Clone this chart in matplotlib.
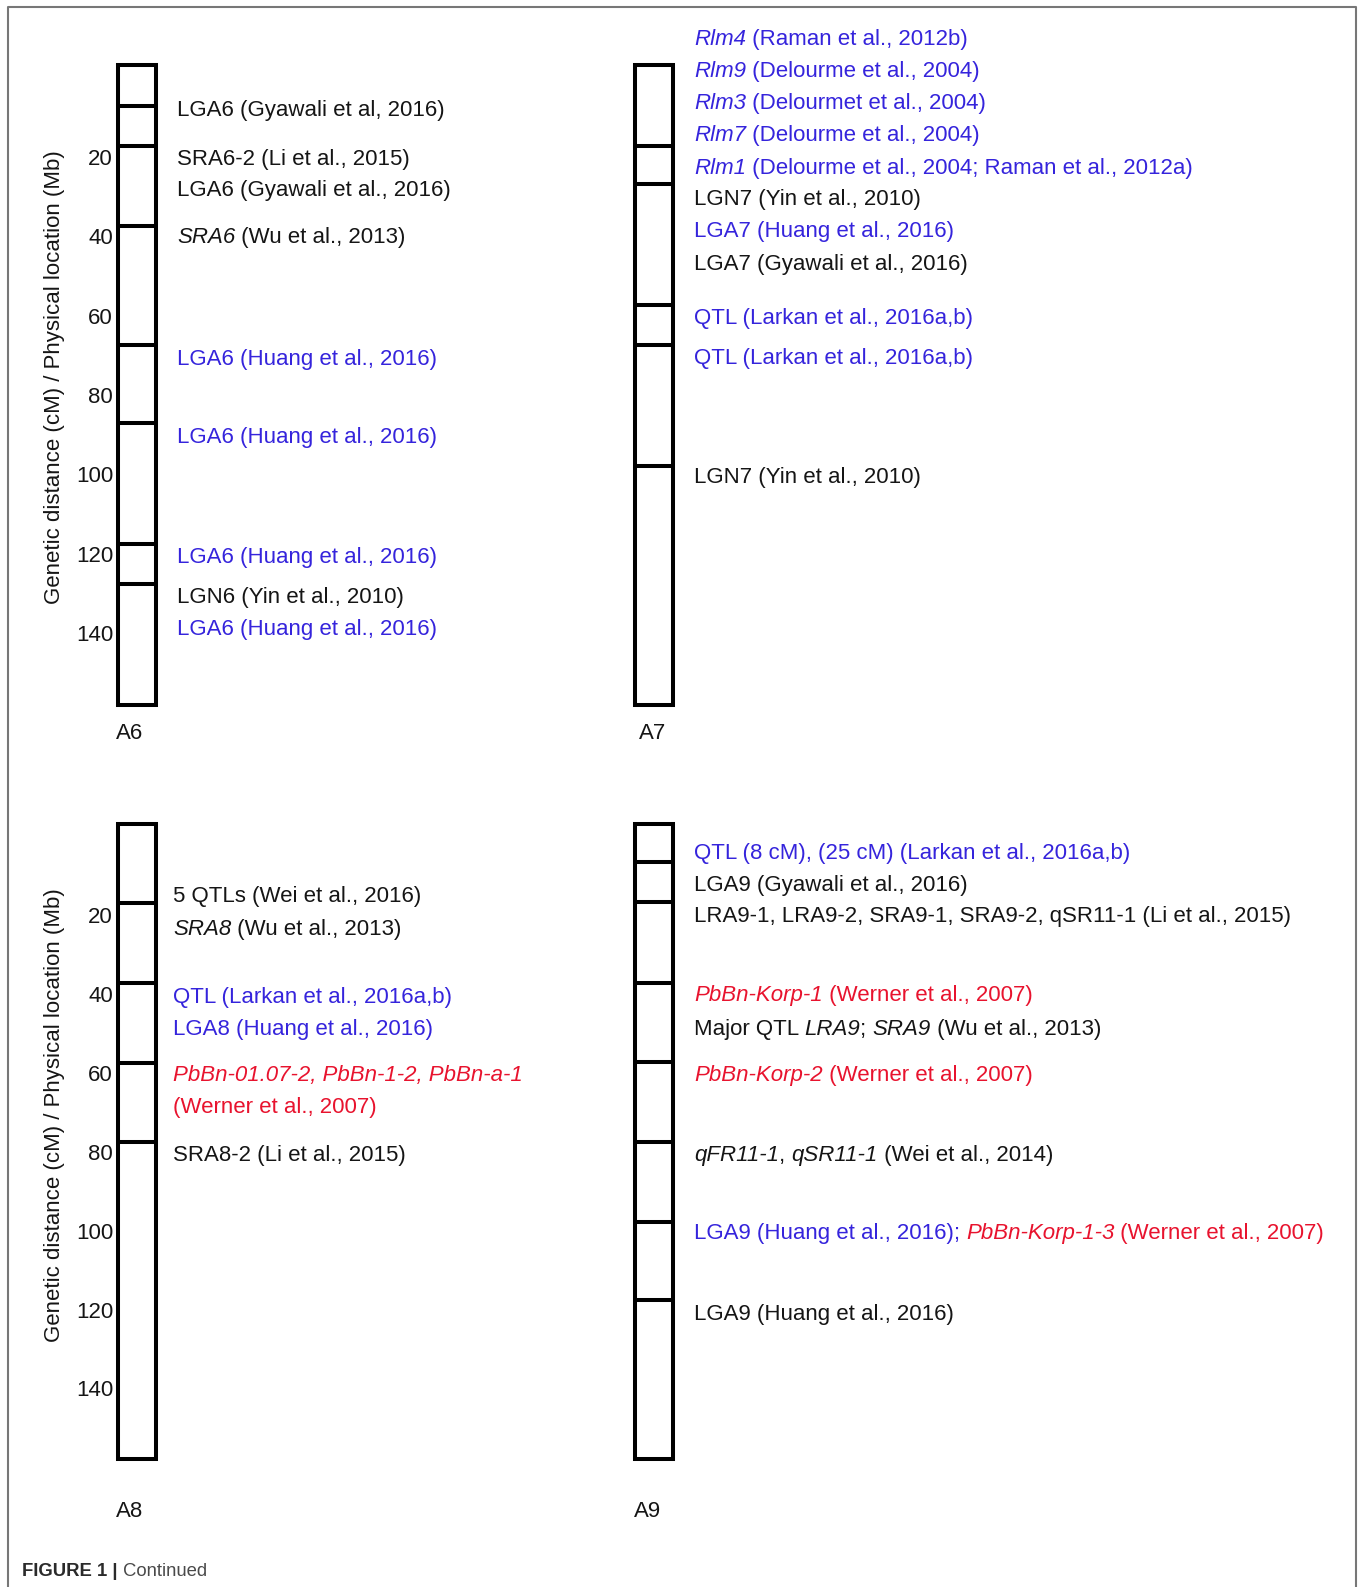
import matplotlib
matplotlib.use("Agg")
import matplotlib.pyplot as plt
from matplotlib.lines import Line2D

plt.rcParams['font.family'] = ['Liberation Sans', 'DejaVu Sans']

K = '#151515'   # black text
B = '#3524dc'   # blue text
R = '#e8132e'   # red text

# chromosome extent (cM) and axis ticks
chrom_start = -3
chrom_end = 158
ticks = [20, 40, 60, 80, 100, 120, 140]

# marker lines drawn across each chromosome (cM)
a6_breaks = [7.2, 17.2, 37.4, 67.4, 87.2, 117.6, 127.7]
a7_breaks = [17.2, 27.0, 57.4, 67.4, 97.8]
a8_breaks = [17.0, 37.2, 57.6, 77.5]
a9_breaks = [6.5, 16.6, 37.2, 57.2, 77.5, 97.8, 117.7]

# annotation rows: position (cM) and segments (text, colour, italic)
a6_pos = [7.8, 20.0, 28.0, 39.7, 70.4, 90.1, 120.3, 130.4, 138.4]
a6_labels = [
    [("LGA6 (Gyawali et al, 2016)", K, False)],
    [("SRA6-2 (Li et al., 2015)", K, False)],
    [("LGA6 (Gyawali et al., 2016)", K, False)],
    [("SRA6", K, True), (" (Wu et al., 2013)", K, False)],
    [("LGA6 (Huang et al., 2016)", B, False)],
    [("LGA6 (Huang et al., 2016)", B, False)],
    [("LGA6 (Huang et al., 2016)", B, False)],
    [("LGN6 (Yin et al., 2010)", K, False)],
    [("LGA6 (Huang et al., 2016)", B, False)],
]

a7_pos = [-10.2, -2.0, 5.9, 14.1, 22.3, 30.2, 38.3, 46.4, 60.1, 70.2, 100.3]
a7_labels = [
    [("Rlm4", B, True), (" (Raman et al., 2012b)", B, False)],
    [("Rlm9", B, True), (" (Delourme et al., 2004)", B, False)],
    [("Rlm3", B, True), (" (Delourmet et al., 2004)", B, False)],
    [("Rlm7", B, True), (" (Delourme et al., 2004)", B, False)],
    [("Rlm1", B, True), (" (Delourme et al., 2004; Raman et al., 2012a)", B, False)],
    [("LGN7 (Yin et al., 2010)", K, False)],
    [("LGA7 (Huang et al., 2016)", B, False)],
    [("LGA7 (Gyawali et al., 2016)", K, False)],
    [("QTL (Larkan et al., 2016a,b)", B, False)],
    [("QTL (Larkan et al., 2016a,b)", B, False)],
    [("LGN7 (Yin et al., 2010)", K, False)],
]

a8_pos = [14.8, 23.0, 40.3, 48.3, 60.1, 68.1, 80.4]
a8_labels = [
    [("5 QTLs (Wei et al., 2016)", K, False)],
    [("SRA8", K, True), (" (Wu et al., 2013)", K, False)],
    [("QTL (Larkan et al., 2016a,b)", B, False)],
    [("LGA8 (Huang et al., 2016)", B, False)],
    [("PbBn-01.07-2, PbBn-1-2, PbBn-a-1", R, True)],
    [("(Werner et al., 2007)", R, False)],
    [("SRA8-2 (Li et al., 2015)", K, False)],
]

a9_pos = [3.9, 12.0, 19.8, 39.8, 48.3, 60.1, 80.4, 100.2, 120.7]
a9_labels = [
    [("QTL (8 cM), (25 cM) (Larkan et al., 2016a,b)", B, False)],
    [("LGA9 (Gyawali et al., 2016)", K, False)],
    [("LRA9-1, LRA9-2, SRA9-1, SRA9-2, qSR11-1 (Li et al., 2015)", K, False)],
    [("PbBn-Korp-1", R, True), (" (Werner et al., 2007)", R, False)],
    [("Major QTL ", K, False), ("LRA9", K, True), ("; ", K, False),
     ("SRA9", K, True), (" (Wu et al., 2013)", K, False)],
    [("PbBn-Korp-2", R, True), (" (Werner et al., 2007)", R, False)],
    [("qFR11-1", K, True), (", ", K, False), ("qSR11-1", K, True),
     (" (Wei et al., 2014)", K, False)],
    [("LGA9 (Huang et al., 2016); ", B, False), ("PbBn-Korp-1-3", R, True),
     (" (Werner et al., 2007)", R, False)],
    [("LGA9 (Huang et al., 2016)", K, False)],
]

W, H = 1360, 1587
FS = 16
fig = plt.figure(figsize=(W / 100, H / 100), dpi=100)

# rows: (pixel of 0 cM, pixels per cM), axes from px top to px bottom
rows = {'top': (77.3, 3.97, 20, 720), 'bottom': (836.1, 3.945, 780, 1480)}
cols = {'left': (113, 507), 'right': (630, 700)}


def make_ax(row, col):
    y0, scale, ptop, pbot = rows[row]
    left, width = cols[col]
    ax = fig.add_axes([left / W, 1 - pbot / H, width / W, (pbot - ptop) / H])
    ax.set_xlim(0, width)
    ax.set_ylim((pbot - y0) / scale, (ptop - y0) / scale)
    for s in ax.spines.values():
        s.set_visible(False)
    ax.set_xticks([])
    ax.patch.set_alpha(0)
    return ax


def put_label(ax, x, y, segments):
    # chain the pieces of one row so mixed italic / colours sit on one baseline
    prev = None
    for s, c, it in segments:
        st = 'italic' if it else 'normal'
        if prev is None:
            prev = ax.annotate(s, (x, y), xytext=(0, -0.36 * FS),
                               textcoords='offset points', ha='left', va='baseline',
                               color=c, style=st, fontsize=FS, annotation_clip=False)
        else:
            prev = ax.annotate(s, (1, 0), xycoords=prev, ha='left', va='bottom',
                               color=c, style=st, fontsize=FS)


def draw_chrom(ax, breaks, pos, labels, name, text_x, name_x, name_y, show_ticks):
    ax.bar(24, chrom_end - chrom_start, bottom=chrom_start, width=38,
           facecolor='white', edgecolor='black', linewidth=2.9)
    ax.hlines(breaks, 5, 43, color='black', linewidth=2.9)
    for p, segs in zip(pos, labels):
        put_label(ax, text_x, p, segs)
    ax.text(name_x, name_y, name, ha='center', va='center', fontsize=FS,
            color=K, clip_on=False)
    if show_ticks:
        ax.set_yticks(ticks)
        ax.set_yticklabels([str(t) for t in ticks])
        ax.tick_params(axis='y', length=0, pad=0, labelsize=FS, labelcolor=K)
    else:
        ax.set_yticks([])


ax6 = make_ax('top', 'left')
draw_chrom(ax6, a6_breaks, a6_pos, a6_labels, 'A6', 64, 17, 165.2, True)
ax7 = make_ax('top', 'right')
draw_chrom(ax7, a7_breaks, a7_pos, a7_labels, 'A7', 64, 23, 165.2, False)
ax8 = make_ax('bottom', 'left')
draw_chrom(ax8, a8_breaks, a8_pos, a8_labels, 'A8', 60, 17, 171.3, True)
ax9 = make_ax('bottom', 'right')
draw_chrom(ax9, a9_breaks, a9_pos, a9_labels, 'A9', 64, 18, 171.3, False)

ylab = "Genetic distance (cM) / Physical location (Mb)"
fig.text(55 / W, 1 - 377 / H, ylab, rotation=90, ha='center', va='center',
         fontsize=FS, color=K)
fig.text(55 / W, 1 - 1115 / H, ylab, rotation=90, ha='center', va='center',
         fontsize=FS, color=K)

# caption
cap = fig.text(22 / W, 1 - 1576.5 / H, "FIGURE 1 | ", ha='left', va='baseline',
               fontsize=13.3, fontweight='bold', color='#2b2b2b')
fig.add_artist(plt.Annotation("Continued", (1, 0), xycoords=cap, ha='left', va='bottom',
                              fontsize=13.3, color='#4a4a4a'))

# page frame
fig.add_artist(Line2D([7.5 / W, 7.5 / W, 1355.5 / W, 1355.5 / W],
                      [0, 1 - 6.5 / H, 1 - 6.5 / H, 0],
                      transform=fig.transFigure, color='#777777', linewidth=1.5))

fig.savefig('out.png', dpi=100)
